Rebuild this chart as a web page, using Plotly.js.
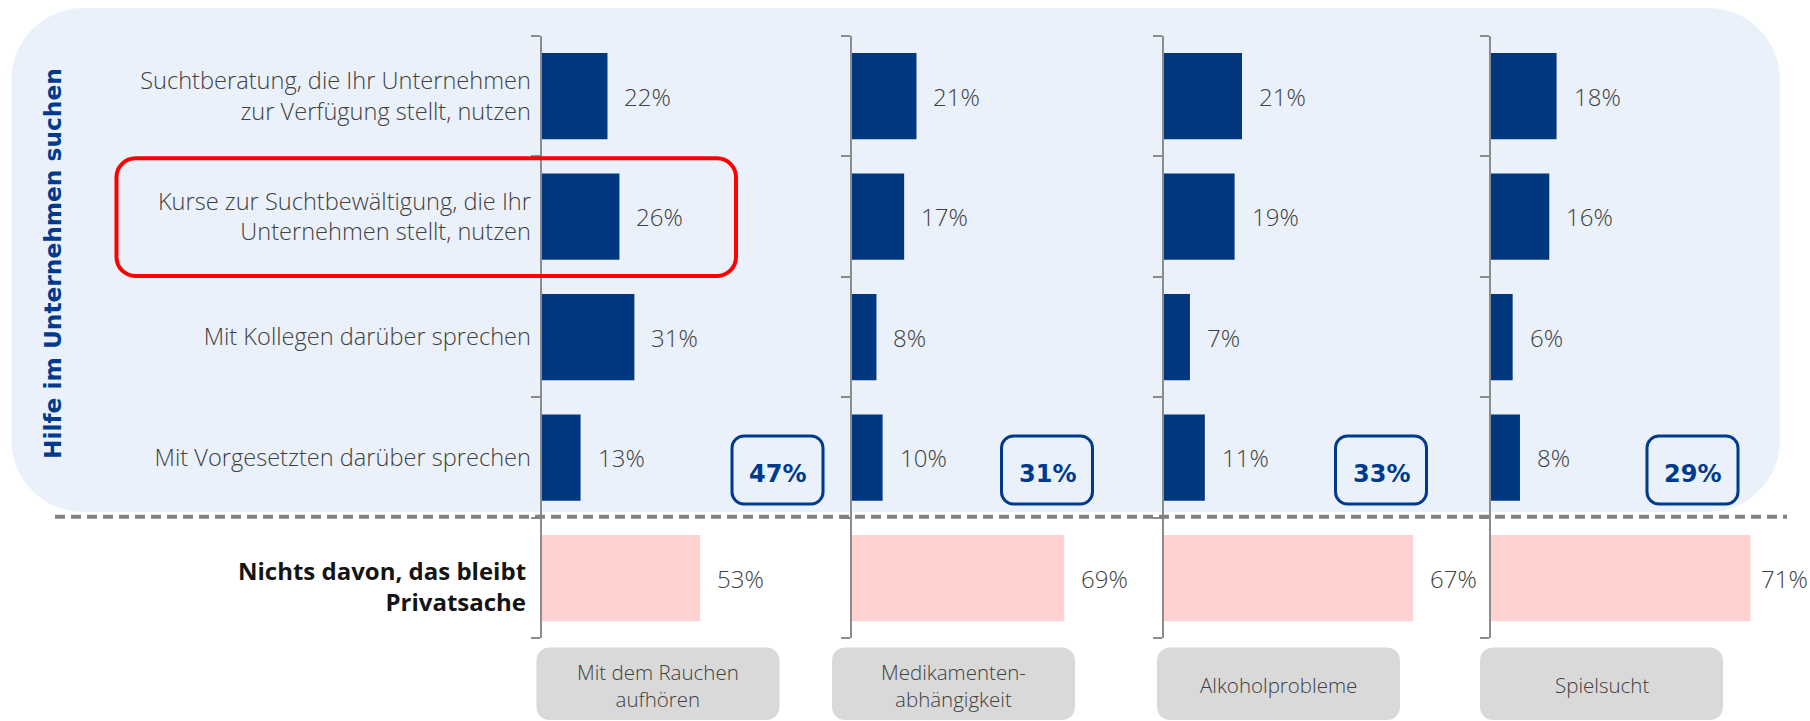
<!DOCTYPE html>
<html><head><meta charset="utf-8">
<script src="https://cdn.plot.ly/plotly-3.0.1.min.js"></script>
<style>html,body{margin:0;padding:0;background:#fff;overflow:hidden;}#chart{width:1810px;height:721px;}</style>
</head><body><div id="chart"></div>
<script>
// ---------- data ----------
const categories = [
  "Suchtberatung, die Ihr Unternehmen zur Verfügung stellt, nutzen",
  "Kurse zur Suchtbewältigung, die Ihr Unternehmen stellt, nutzen",
  "Mit Kollegen darüber sprechen",
  "Mit Vorgesetzten darüber sprechen",
  "Nichts davon, das bleibt Privatsache"
];
const categoryLabels = [
  "Suchtberatung, die Ihr Unternehmen<br>zur Verfügung stellt, nutzen",
  "Kurse zur Suchtbewältigung, die Ihr<br>Unternehmen stellt, nutzen",
  "Mit Kollegen darüber sprechen",
  "Mit Vorgesetzten darüber sprechen",
  "Nichts davon, das bleibt<br>Privatsache"
];
const panelLabels = ["Mit dem Rauchen<br>aufhören", "Medikamenten-<br>abhängigkeit", "Alkoholprobleme", "Spielsucht"];
const smoking    = [22, 26, 31, 13, 53];
const medication = [21, 17, 8, 10, 69];
const alcohol    = [21, 19, 7, 11, 67];
const gambling   = [18, 16, 6, 8, 71];
const anyHelp    = [47, 31, 33, 29];
const groupTitle = "Hilfe im Unternehmen suchen";

// ---------- layout helpers ----------
const W = 1810, H = 721;
const px = x => x / W;
const py = y => 1 - y / H;
function rr(x0, y0, x1, y1, r) {
  const k = 0.5523 * r;
  const P = (x, y) => px(x).toFixed(5) + ',' + py(y).toFixed(5);
  return 'M' + P(x0 + r, y0) + ' L' + P(x1 - r, y0) +
    ' C' + P(x1 - r + k, y0) + ' ' + P(x1, y0 + r - k) + ' ' + P(x1, y0 + r) +
    ' L' + P(x1, y1 - r) +
    ' C' + P(x1, y1 - r + k) + ' ' + P(x1 - r + k, y1) + ' ' + P(x1 - r, y1) +
    ' L' + P(x0 + r, y1) +
    ' C' + P(x0 + r - k, y1) + ' ' + P(x0, y1 - r + k) + ' ' + P(x0, y1 - r) +
    ' L' + P(x0, y0 + r) +
    ' C' + P(x0, y0 + r - k) + ' ' + P(x0 + r - k, y0) + ' ' + P(x0 + r, y0) + ' Z';
}

const series = [smoking, medication, alcohol, gambling];
const BLUE = '#00377F', PINK = '#FFD1D1', GREY_TXT = '#404040', AXIS = '#8C8C8C', DARKBLUE = '#003A8C';
const axisX = [541.7, 851.8, 1163.9, 1490.7];   // pixel position of each panel's axis
const xMax  = [100, 100, 85, 85];
const pxPerUnit = [2.99, 3.08, 3.72, 3.66];
const yTop = 36, yBot = 638.3;
const totalBoxCx = [777.5, 1047, 1381, 1692.5];
const catBoxCx = [658, 953.5, 1278.5, 1601.5];
const lastIdx = categories.length - 1;

const lightFont = {family: '"Open Sans", Roboto, sans-serif', weight: 300, color: GREY_TXT};

const data = [];
const layout = {
  width: W, height: H,
  margin: {l: 0, r: 0, t: 0, b: 0, pad: 0},
  paper_bgcolor: '#ffffff', plot_bgcolor: 'rgba(0,0,0,0)',
  showlegend: false, bargap: 0.284,
  shapes: [], annotations: []
};

// background panel
layout.shapes.push({type: 'path', xref: 'paper', yref: 'paper', layer: 'below',
  path: rr(11.5, 8, 1780, 512, 72), fillcolor: '#EAF1FA', line: {width: 0}});

series.forEach((vals, p) => {
  const n = p === 0 ? '' : String(p + 1);
  data.push({
    type: 'bar', orientation: 'h', x: vals, y: categories,
    xaxis: 'x' + n, yaxis: 'y' + n,
    marker: {color: categories.map((c, i) => i === lastIdx ? PINK : BLUE), line: {width: 0}},
    hoverinfo: 'skip'
  });
  const d0 = axisX[p], d1 = axisX[p] + xMax[p] * pxPerUnit[p];
  layout['xaxis' + n] = {domain: [px(d0), px(d1)], range: [0, xMax[p]], visible: false, fixedrange: true, anchor: 'y' + n};
  layout['yaxis' + n] = {
    domain: [py(yBot), py(yTop)], anchor: 'x' + n, type: 'category', autorange: 'reversed',
    tickmode: 'array', tickvals: categories,
    ticktext: categoryLabels.map((t, i) => i === lastIdx ? ' ' : t),
    showticklabels: p === 0, tickson: 'boundaries', ticks: 'outside', ticklen: 9, tickwidth: 2,
    tickcolor: AXIS, showline: true, linecolor: AXIS, linewidth: 2, showgrid: false, zeroline: false,
    ticklabelstandoff: 4,
    tickfont: Object.assign({size: 23.6}, lightFont), fixedrange: true
  };
  // value labels
  vals.forEach((v, i) => {
    const last = (p === series.length - 1 && i === lastIdx);
    layout.annotations.push({xref: 'x' + n, yref: 'y' + n, x: v, y: categories[i],
      text: v + '%', showarrow: false, xanchor: 'left', yanchor: 'middle', xshift: last ? 8 : 15,
      font: Object.assign({size: 24}, lightFont)});
  });
  // total box
  const bx = totalBoxCx[p];
  layout.shapes.push({type: 'path', xref: 'paper', yref: 'paper', layer: 'above',
    path: rr(bx - 45.5, 436, bx + 45.5, 504, 12), fillcolor: 'rgba(0,0,0,0)', line: {color: DARKBLUE, width: 3}});
  layout.annotations.push({xref: 'paper', yref: 'paper', x: px(bx), y: py(474), text: '<b>' + anyHelp[p] + '%</b>',
    showarrow: false, xanchor: 'center', yanchor: 'middle',
    font: {family: '"DejaVu Sans", Verdana, sans-serif', size: 24, color: DARKBLUE}});
  // category box
  const cx = catBoxCx[p];
  layout.shapes.push({type: 'path', xref: 'paper', yref: 'paper', layer: 'above',
    path: rr(cx - 121.5, 647.5, cx + 121.5, 720, 13), fillcolor: '#D9D9D9', line: {width: 0}});
  layout.annotations.push({xref: 'paper', yref: 'paper', x: px(cx), y: py(685), text: panelLabels[p],
    showarrow: false, xanchor: 'center', yanchor: 'middle',
    font: Object.assign({size: 20.5}, lightFont)});
});

// bold label of the last category (tick label drawn as annotation for its own style)
layout.annotations.push({xref: 'paper', yref: 'y', x: px(528), y: categories[lastIdx], yshift: -8,
  text: '<b>' + categoryLabels[lastIdx] + '</b>', showarrow: false, xanchor: 'right', yanchor: 'middle', align: 'right',
  font: {family: '"Open Sans", Roboto, sans-serif', size: 24, color: '#141414'}});

// highlight box
layout.shapes.push({type: 'path', xref: 'paper', yref: 'paper', layer: 'above',
  path: rr(116.5, 158.3, 736, 276, 19), fillcolor: 'rgba(0,0,0,0)', line: {color: '#FF0000', width: 4}});
// dashed separator
layout.shapes.push({type: 'line', xref: 'paper', yref: 'paper', layer: 'above',
  x0: px(55), x1: px(1787), y0: py(516.7), y1: py(516.7),
  line: {color: '#808080', width: 4, dash: '10px,6px'}});
// vertical group title
layout.annotations.push({xref: 'paper', yref: 'paper', x: px(52), y: py(264), text: '<b>' + groupTitle + '</b>',
  textangle: -90, showarrow: false, xanchor: 'center', yanchor: 'middle',
  font: {family: '"DejaVu Sans", Verdana, sans-serif', size: 23.3, color: DARKBLUE}});

Plotly.newPlot('chart', data, layout, {staticPlot: true, displayModeBar: false});
</script>
</body></html>
